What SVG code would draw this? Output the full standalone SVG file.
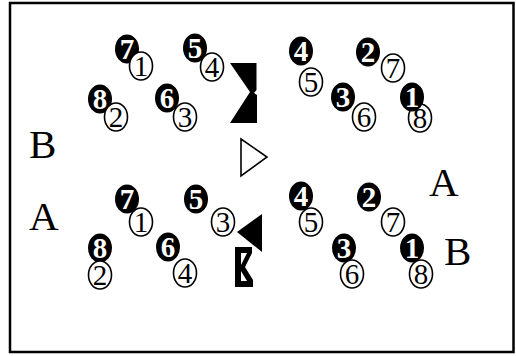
<svg xmlns="http://www.w3.org/2000/svg" width="516" height="356" viewBox="0 0 516 356">
<style>
.blk{fill:#000}
.opn{fill:#fff;stroke:#000;stroke-width:1.6}
.nb{font-family:"Liberation Serif","DejaVu Serif",serif;font-weight:bold;font-size:29px;fill:#fff;text-anchor:middle}
.no{font-family:"Liberation Serif","DejaVu Serif",serif;font-size:29px;fill:#000;text-anchor:middle}
.lbl{font-family:"Liberation Serif","DejaVu Serif",serif;font-size:41px;fill:#000}
</style>
<defs>
<ellipse id="eb" class="blk" rx="12" ry="14.5"/>
<ellipse id="eo" class="opn" rx="11.5" ry="14"/>
</defs>
<rect x="10" y="3" width="503.5" height="349" fill="#fff" stroke="#000" stroke-width="2.5"/>

<!-- top-left group -->
<g id="t71"><use href="#eb" x="127" y="49"/><text class="nb" x="127" y="59">7</text><use href="#eo" x="141" y="66"/><text class="no" x="141" y="76">1</text></g>
<g id="t54"><use href="#eb" x="195" y="48"/><text class="nb" x="195" y="58">5</text><use href="#eo" x="212" y="67"/><text class="no" x="212" y="77">4</text></g>
<g id="t82"><use href="#eb" x="100" y="99"/><text class="nb" x="100" y="109">8</text><use href="#eo" x="116" y="117"/><text class="no" x="116" y="127">2</text></g>
<g id="t63"><use href="#eb" x="167" y="98"/><text class="nb" x="167" y="108">6</text><use href="#eo" x="185" y="117"/><text class="no" x="185" y="127">3</text></g>

<!-- top-right group -->
<g id="t45"><use href="#eb" x="301" y="51"/><text class="nb" x="301" y="61">4</text><use href="#eo" x="311" y="82"/><text class="no" x="311" y="92">5</text></g>
<g id="t27"><use href="#eb" x="368" y="52"/><text class="nb" x="368" y="62">2</text><use href="#eo" x="393" y="68"/><text class="no" x="393" y="78">7</text></g>
<g id="t36"><use href="#eb" x="343" y="97"/><text class="nb" x="343" y="107">3</text><use href="#eo" x="364" y="117"/><text class="no" x="364" y="127">6</text></g>
<g id="t18"><use href="#eo" x="420" y="118"/><text class="no" x="420" y="128">8</text><use href="#eb" x="412" y="97"/><text class="nb" x="412" y="107">1</text></g>

<!-- bottom-left group -->
<g id="b71"><use href="#eb" x="127" y="199"/><text class="nb" x="127" y="209">7</text><use href="#eo" x="141" y="222"/><text class="no" x="141" y="232">1</text></g>
<g id="b5"><use href="#eb" x="196" y="199"/><text class="nb" x="196" y="209">5</text></g>
<g id="b3"><use href="#eo" x="223" y="222"/><text class="no" x="223" y="232">3</text></g>
<g id="b82"><use href="#eb" x="100" y="248"/><text class="nb" x="100" y="258">8</text><use href="#eo" x="100" y="275"/><text class="no" x="100" y="285">2</text></g>
<g id="b64"><use href="#eb" x="168" y="247"/><text class="nb" x="168" y="257">6</text><use href="#eo" x="185" y="273"/><text class="no" x="185" y="283">4</text></g>

<!-- bottom-right group -->
<g id="b45"><use href="#eb" x="301" y="196"/><text class="nb" x="301" y="206">4</text><use href="#eo" x="311" y="222"/><text class="no" x="311" y="232">5</text></g>
<g id="b27"><use href="#eb" x="369" y="197"/><text class="nb" x="369" y="207">2</text><use href="#eo" x="393" y="222"/><text class="no" x="393" y="232">7</text></g>
<g id="b36"><use href="#eb" x="344" y="248"/><text class="nb" x="344" y="258">3</text><use href="#eo" x="352" y="274"/><text class="no" x="352" y="284">6</text></g>
<g id="b18"><use href="#eb" x="412" y="248"/><text class="nb" x="412" y="258">1</text><use href="#eo" x="421" y="274"/><text class="no" x="421" y="284">8</text></g>

<!-- shapes -->
<g id="shape-top"><path d="M230,63 H256.5 V90 L254,93 L257,95 V123 H230 L250,92 Z" fill="#000"/></g>
<g id="tri-open"><path d="M241,139 L267,157 L241,176 Z" fill="#fff" stroke="#000" stroke-width="1.6"/></g>
<g id="tri-fill"><path d="M237,232 L262,214 L262,252 Z" fill="#000"/></g>
<g id="shape-bottom"><path d="M235,247 H252 V253 L245,267 L253,280 V287 H235 Z M241,253 H247 L241,265 Z M241,271 L247,281 H241 Z" fill="#000" fill-rule="evenodd"/></g>

<!-- labels -->
<g id="labels">
<text class="lbl" x="29" y="158">B</text>
<text class="lbl" x="29" y="230">A</text>
<text class="lbl" x="429" y="196">A</text>
<text class="lbl" x="444" y="265">B</text>
</g>
<g id="connectors"></g>
</svg>
